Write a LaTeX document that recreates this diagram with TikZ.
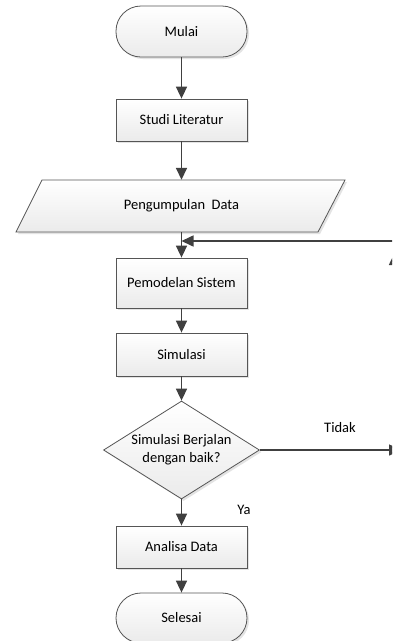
\documentclass[tikz,border=0pt]{standalone}
\usepackage{fontspec}
\setmainfont{Carlito}
\usetikzlibrary{shapes.geometric,arrows.meta,shadows}
\definecolor{edge}{HTML}{555555}
\definecolor{arr}{HTML}{404040}
\tikzset{
  x=1pt,y=-1pt,
  base/.style={draw=edge, line width=0.8pt, top color=white, bottom color=gray!16,
    drop shadow={shadow xshift=2pt, shadow yshift=-2pt, fill=gray!22, opacity=1},
    font=\fontsize{14.5}{17}\selectfont, align=center, inner sep=0pt},
  procbox/.style={base, rectangle, minimum width=131pt},
  term/.style={base, rectangle, rounded corners=25pt, minimum width=131pt},
  decision/.style={base, diamond, minimum width=156pt, minimum height=98pt},
  lbl/.style={font=\fontsize{14.5}{17}\selectfont, inner sep=0pt},
  flow/.style={draw=arr, line width=1.6pt, -{Triangle[length=12pt,width=11pt]}}
}
\begin{document}
\begin{tikzpicture}
\useasboundingbox (0,0) rectangle (392,641);
\clip (0,0) rectangle (392,641);
\fill[white] (0,0) rectangle (392,641);
% parallelogram shape
\fill[gray!22] (44,182) -- (347,182) -- (320,234) -- (18,234) -- cycle;
\shade[top color=white, bottom color=gray!16, draw=edge, line width=0.8pt]
  (42,180) -- (345,180) -- (318,232) -- (16,232) -- cycle;
\node[term, minimum height=51pt] (mulai) at (181.5,31.5) {Mulai};
\node[procbox, minimum height=42pt] (studi) at (181.5,120) {Studi Literatur};
\node[lbl, minimum width=200pt, minimum height=52pt] (data) at (181.5,206) {Pengumpulan\ \ Data};
\node[procbox, minimum height=50pt] (pemodelan) at (181.5,283) {Pemodelan Sistem};
\node[procbox, minimum height=43pt] (simulasi) at (181.5,354.5) {Simulasi};
\node[decision] (dec) at (181.5,450) {};
\node[lbl, align=center] (dectext) at (dec) {Simulasi Berjalan\\[1pt]dengan baik?};
\node[procbox, minimum height=42pt] (analisa) at (181.5,547) {Analisa Data};
\node[term, minimum height=50pt] (selesai) at (181.5,618) {Selesai};
\node[lbl] (tidak) at (340,428) {Tidak};
\node[lbl] (ya) at (244,510) {Ya};
\coordinate (loopR) at (400,241);
\coordinate (tidakEnd) at (401,450);
\coordinate (upStart) at (394.5,330);
\coordinate (upEnd) at (394.5,253);
\draw[flow] (mulai) -- (studi);
\draw[flow] (studi) -- (data.north);
\draw[flow] (data.south) -- (pemodelan);
\draw[flow] (loopR) -- (pemodelan.north |- loopR);
\draw[flow] (pemodelan) -- (simulasi);
\draw[flow] (simulasi) -- (dec.north);
\draw[flow] (dec.south) -- (analisa);
\draw[flow] (analisa) -- (selesai);
\draw[flow] (dec.east) -- (tidakEnd);
\draw[flow] (upStart) -- (upEnd);
\end{tikzpicture}
\end{document}
